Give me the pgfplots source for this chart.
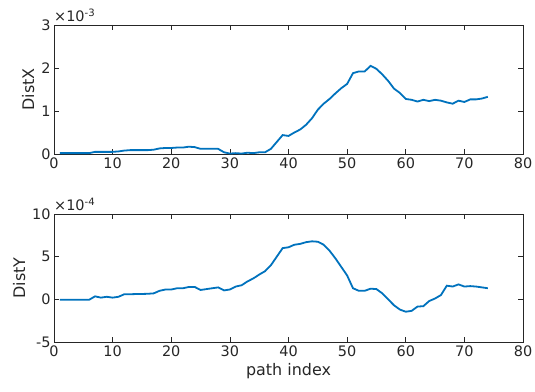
\documentclass[border=0pt]{standalone}
\usepackage{fontspec}
\setmainfont{DejaVu Sans}
\usepackage{pgfplots}
\pgfplotsset{compat=1.18}
\definecolor{mblue}{rgb}{0,0.447,0.741}
\definecolor{axgray}{rgb}{0.15,0.15,0.15}
\begin{document}
\begin{tikzpicture}[x=1bp,y=1bp]
\path[use as bounding box] (0,0) rectangle (535,391);
\pgfplotsset{
  mystyle/.style={
    scale only axis, width=469bp,
    xmin=0, xmax=80, xtick={0,10,...,80},
    axis line style={axgray, line width=0.6bp},
    every tick/.style={axgray, line width=0.6bp},
    tick align=inside, major tick length=5bp,
    tick label style={font=\fontsize{14.5}{15}\selectfont, text=axgray},
    label style={font=\fontsize{16}{17}\selectfont, text=axgray},
    /pgf/number format/assume math mode=true,
    scaled y ticks=false, scaled x ticks=false,
    clip=false,
  }
}
\begin{axis}[mystyle, at={(54bp,237bp)}, anchor=south west, height=129bp,
  ymin=0, ymax=0.003, ytick={0,0.001,0.002,0.003}, yticklabels={0,1,2,3},
  ylabel={DistX}]
\addplot[mblue, line width=1.8bp] coordinates {
(1,0.02e-3) (2,0.02e-3) (3,0.02e-3) (4,0.02e-3) (5,0.02e-3) (6,0.02e-3) (7,0.05e-3) (8,0.05e-3) (9,0.05e-3) (10,0.05e-3)
(11,0.06e-3) (12,0.08e-3) (13,0.09e-3) (14,0.09e-3) (15,0.09e-3) (16,0.09e-3) (17,0.10e-3) (18,0.13e-3) (19,0.14e-3) (20,0.14e-3)
(21,0.15e-3) (22,0.15e-3) (23,0.17e-3) (24,0.16e-3) (25,0.12e-3) (26,0.12e-3) (27,0.12e-3) (28,0.12e-3) (29,0.04e-3) (30,0.01e-3)
(31,0.02e-3) (32,0.01e-3) (33,0.03e-3) (34,0.02e-3) (35,0.04e-3) (36,0.04e-3) (37,0.12e-3) (38,0.28e-3) (39,0.44e-3) (40,0.42e-3)
(41,0.50e-3) (42,0.57e-3) (43,0.68e-3) (44,0.83e-3) (45,1.03e-3) (46,1.17e-3) (47,1.28e-3) (48,1.41e-3) (49,1.53e-3) (50,1.63e-3)
(51,1.88e-3) (52,1.92e-3) (53,1.92e-3) (54,2.05e-3) (55,1.98e-3) (56,1.85e-3) (57,1.70e-3) (58,1.52e-3) (59,1.42e-3) (60,1.28e-3)
(61,1.26e-3) (62,1.22e-3) (63,1.26e-3) (64,1.23e-3) (65,1.26e-3) (66,1.24e-3) (67,1.20e-3) (68,1.17e-3) (69,1.24e-3) (70,1.21e-3)
(71,1.27e-3) (72,1.27e-3) (73,1.29e-3) (74,1.33e-3)
};
\node[anchor=south west, inner sep=0pt, font=\fontsize{14.5}{15}\selectfont, text=axgray] at ([yshift=3bp]rel axis cs:0,1) {×10\textsuperscript{-3}};
\end{axis}
\begin{axis}[mystyle, at={(54bp,49bp)}, anchor=south west, height=128bp,
  ymin=-0.0005, ymax=0.001, ytick={-0.0005,0,0.0005,0.001}, yticklabels={-5,0,5,10},
  ylabel={DistY}, xlabel={path index}]
\addplot[mblue, line width=1.8bp] coordinates {
(1,-0.05e-4) (2,-0.05e-4) (3,-0.05e-4) (4,-0.05e-4) (5,-0.05e-4) (6,-0.05e-4) (7,0.35e-4) (8,0.2e-4) (9,0.3e-4) (10,0.2e-4)
(11,0.3e-4) (12,0.6e-4) (13,0.6e-4) (14,0.62e-4) (15,0.63e-4) (16,0.65e-4) (17,0.7e-4) (18,1.0e-4) (19,1.15e-4) (20,1.15e-4)
(21,1.3e-4) (22,1.3e-4) (23,1.45e-4) (24,1.45e-4) (25,1.1e-4) (26,1.2e-4) (27,1.3e-4) (28,1.4e-4) (29,1.05e-4) (30,1.15e-4)
(31,1.5e-4) (32,1.65e-4) (33,2.1e-4) (34,2.45e-4) (35,2.9e-4) (36,3.3e-4) (37,4.0e-4) (38,5.0e-4) (39,6.0e-4) (40,6.1e-4)
(41,6.4e-4) (42,6.5e-4) (43,6.7e-4) (44,6.8e-4) (45,6.75e-4) (46,6.4e-4) (47,5.7e-4) (48,4.8e-4) (49,3.8e-4) (50,2.8e-4)
(51,1.3e-4) (52,1.0e-4) (53,1.0e-4) (54,1.25e-4) (55,1.2e-4) (56,0.7e-4) (57,0.0e-4) (58,-0.7e-4) (59,-1.2e-4) (60,-1.45e-4)
(61,-1.35e-4) (62,-0.85e-4) (63,-0.8e-4) (64,-0.2e-4) (65,0.1e-4) (66,0.5e-4) (67,1.6e-4) (68,1.5e-4) (69,1.75e-4) (70,1.5e-4)
(71,1.55e-4) (72,1.5e-4) (73,1.4e-4) (74,1.3e-4)
};
\node[anchor=south west, inner sep=0pt, font=\fontsize{14.5}{15}\selectfont, text=axgray] at ([yshift=3bp]rel axis cs:0,1) {×10\textsuperscript{-4}};
\end{axis}
\end{tikzpicture}
\end{document}
